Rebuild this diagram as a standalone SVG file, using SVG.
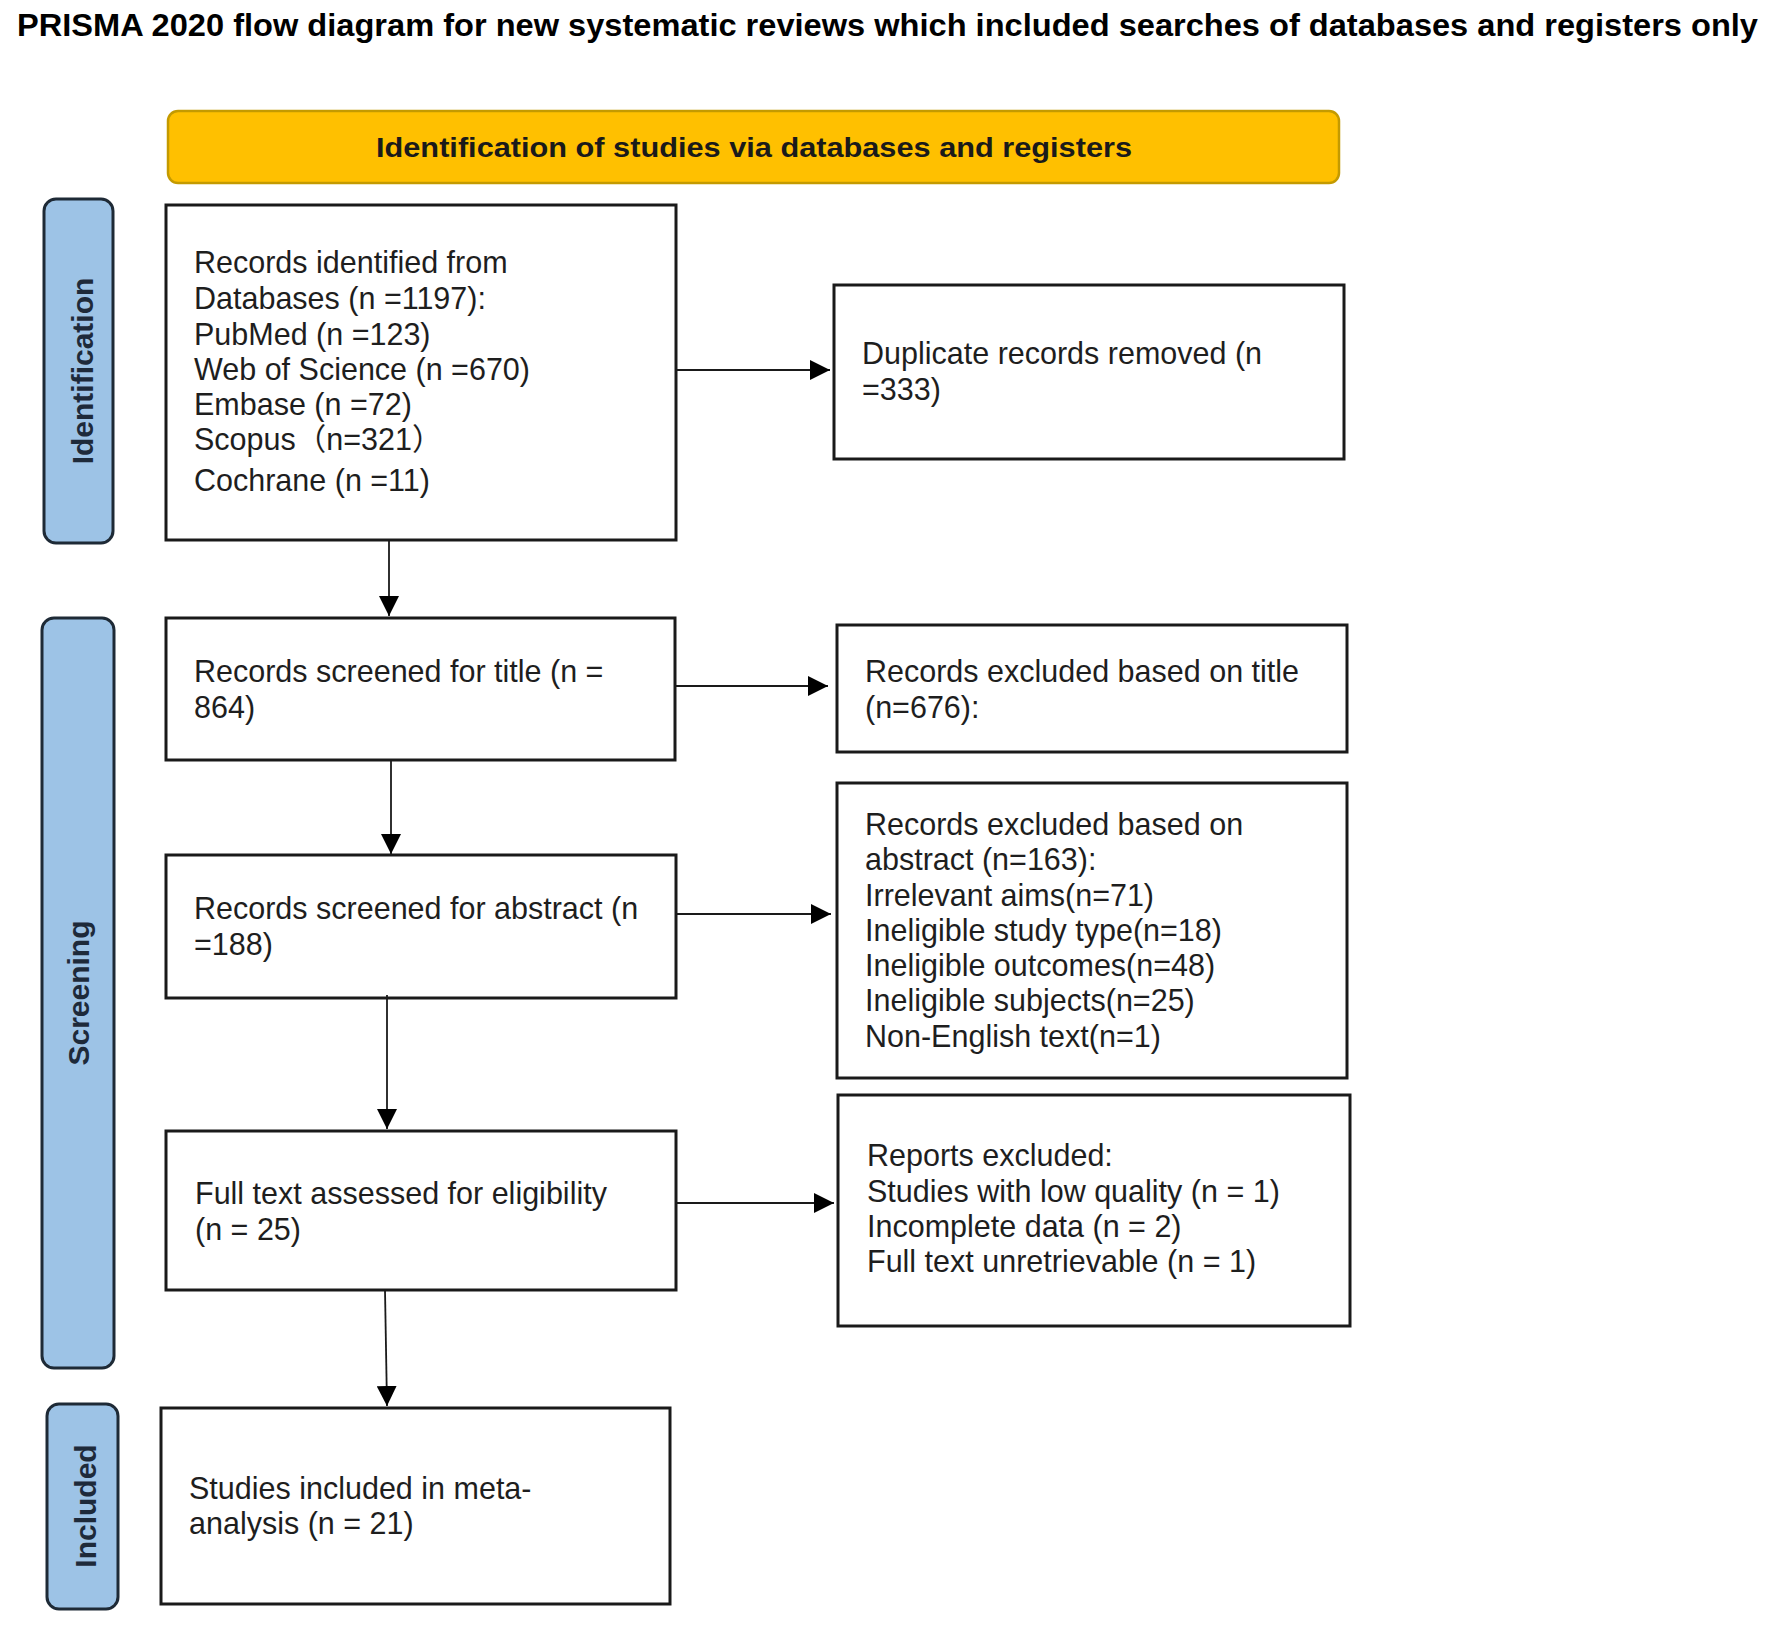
<svg xmlns="http://www.w3.org/2000/svg" width="1772" height="1636" viewBox="0 0 1772 1636">
<style>
.box{fill:#ffffff;stroke:#1a1a1a;stroke-width:3}
.side{fill:#9dc3e6;stroke:#1e2a36;stroke-width:3}
.banner{fill:#ffc000;stroke:#c49a00;stroke-width:2.5}
.t{font-family:"Liberation Sans",Arial,"Noto Sans CJK SC",sans-serif;font-size:30.5px;fill:#1e1e1e}
.sl{font-family:"Liberation Sans",Arial,sans-serif;font-size:30px;font-weight:bold;fill:#1e2a3a;text-anchor:middle}
.con{stroke:#1a1a1a;stroke-width:1.8;fill:none;marker-end:url(#ah)}
</style>
<defs>
<marker id="ah" markerUnits="userSpaceOnUse" markerWidth="20" markerHeight="20" refX="20" refY="10" orient="auto">
<path d="M0,0 L20,10 L0,20 z" fill="#000"/>
</marker>
</defs>
<rect width="1772" height="1636" fill="#ffffff"/>
<g id="title">
<text x="17" y="36" font-family="'Liberation Sans',Arial,sans-serif" font-weight="bold" font-size="31" fill="#000" textLength="1741" lengthAdjust="spacingAndGlyphs">PRISMA 2020 flow diagram for new systematic reviews which included searches of databases and registers only</text>
</g>
<g id="banner">
<rect class="banner" x="168" y="111" width="1171" height="72" rx="10"/>
<text x="376" y="157" font-family="'Liberation Sans',Arial,sans-serif" font-weight="bold" font-size="28" fill="#1a1a1a" textLength="756" lengthAdjust="spacingAndGlyphs">Identification of studies via databases and registers</text>
</g>
<g id="label-identification">
<rect class="side" x="44" y="199" width="69" height="344" rx="12"/>
<text class="sl" transform="translate(78.5,371) rotate(-90)" x="0" y="14">Identification</text>
</g>
<g id="label-screening">
<rect class="side" x="42" y="618" width="72" height="750" rx="12"/>
<text class="sl" transform="translate(78,993) rotate(-90)" x="0" y="11">Screening</text>
</g>
<g id="label-included">
<rect class="side" x="47" y="1404" width="71" height="205" rx="12"/>
<text class="sl" transform="translate(82.5,1506) rotate(-90)" x="0" y="13">Included</text>
</g>
<g id="node-identified">
<rect class="box" x="166" y="205" width="510" height="335"/>
<text class="t" x="194" y="273">Records identified from</text>
<text class="t" x="194" y="309">Databases (n =1197):</text>
<text class="t" x="194" y="345">PubMed (n =123)</text>
<text class="t" x="194" y="380">Web of Science (n =670)</text>
<text class="t" x="194" y="415">Embase (n =72)</text>
<text class="t" x="194" y="450">Scopus（n=321）</text>
<text class="t" x="194" y="491">Cochrane (n =11)</text>
</g>
<g id="node-duplicates">
<rect class="box" x="834" y="285" width="510" height="174"/>
<text class="t" x="862" y="364">Duplicate records removed (n</text>
<text class="t" x="862" y="400">=333)</text>
</g>
<g id="node-title-screened">
<rect class="box" x="166" y="618" width="509" height="142"/>
<text class="t" x="194" y="682">Records screened for title (n =</text>
<text class="t" x="194" y="718">864)</text>
</g>
<g id="node-title-excluded">
<rect class="box" x="837" y="625" width="510" height="127"/>
<text class="t" x="865" y="682">Records excluded based on title</text>
<text class="t" x="865" y="718">(n=676):</text>
</g>
<g id="node-abstract-screened">
<rect class="box" x="166" y="855" width="510" height="143"/>
<text class="t" x="194" y="919">Records screened for abstract (n</text>
<text class="t" x="194" y="955">=188)</text>
</g>
<g id="node-abstract-excluded">
<rect class="box" x="837" y="783" width="510" height="295"/>
<text class="t" x="865" y="835">Records excluded based on</text>
<text class="t" x="865" y="870">abstract (n=163):</text>
<text class="t" x="865" y="906">Irrelevant aims(n=71)</text>
<text class="t" x="865" y="941">Ineligible study type(n=18)</text>
<text class="t" x="865" y="976">Ineligible outcomes(n=48)</text>
<text class="t" x="865" y="1011">Ineligible subjects(n=25)</text>
<text class="t" x="865" y="1047">Non-English text(n=1)</text>
</g>
<g id="node-fulltext">
<rect class="box" x="166" y="1131" width="510" height="159"/>
<text class="t" x="195" y="1204">Full text assessed for eligibility</text>
<text class="t" x="195" y="1240">(n = 25)</text>
</g>
<g id="node-reports-excluded">
<rect class="box" x="838" y="1095" width="512" height="231"/>
<text class="t" x="867" y="1166">Reports excluded:</text>
<text class="t" x="867" y="1202">Studies with low quality (n = 1)</text>
<text class="t" x="867" y="1237">Incomplete data (n = 2)</text>
<text class="t" x="867" y="1272">Full text unretrievable (n = 1)</text>
</g>
<g id="node-included">
<rect class="box" x="161" y="1408" width="509" height="196"/>
<text class="t" x="189" y="1499">Studies included in meta-</text>
<text class="t" x="189" y="1534">analysis (n = 21)</text>
</g>
<g id="connectors">
<line class="con" x1="676" y1="370" x2="830" y2="370"/>
<line class="con" x1="389" y1="540" x2="389" y2="616"/>
<line class="con" x1="676" y1="686" x2="828" y2="686"/>
<line class="con" x1="391" y1="760" x2="391" y2="854"/>
<line class="con" x1="676" y1="914" x2="831" y2="914"/>
<line class="con" x1="387" y1="995" x2="387" y2="1129"/>
<line class="con" x1="676" y1="1203" x2="834" y2="1203"/>
<line class="con" x1="385" y1="1290" x2="387" y2="1406"/>
</g>
</svg>
